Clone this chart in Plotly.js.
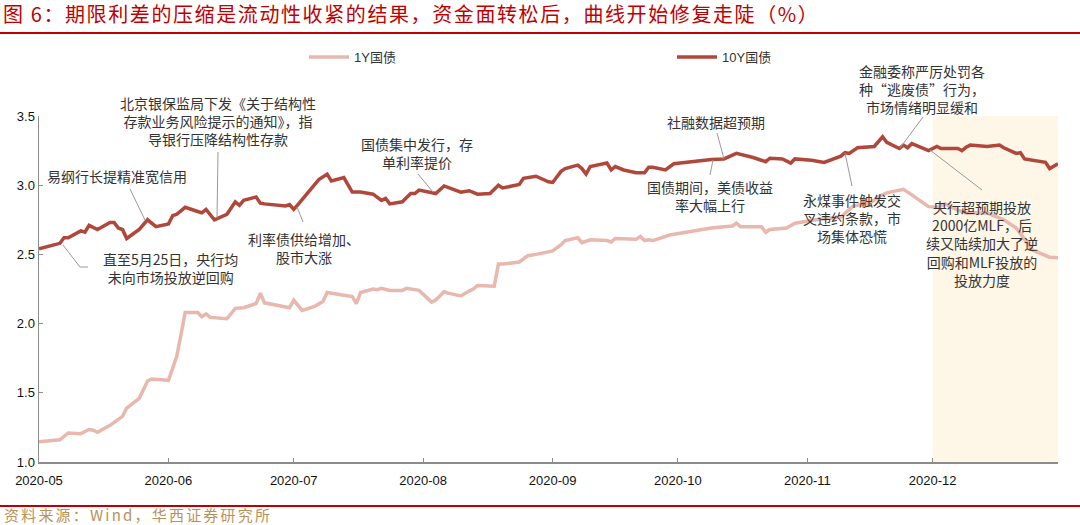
<!DOCTYPE html>
<html>
<head>
<meta charset="utf-8">
<script src="https://cdn.plot.ly/plotly-3.0.1.min.js"></script>
<style>
  html, body { margin: 0; padding: 0; background: #fff; }
  #chart { width: 1080px; height: 525px; }
</style>
</head>
<body>
<div id="chart"></div>
<script>
// ---------------- data ----------------
const dates10Y = [
  "2020-05-01","2020-05-06","2020-05-07","2020-05-08","2020-05-11","2020-05-12","2020-05-13","2020-05-15",
  "2020-05-18","2020-05-19","2020-05-20","2020-05-21","2020-05-22","2020-05-25","2020-05-27","2020-05-29",
  "2020-06-01","2020-06-02","2020-06-03","2020-06-05","2020-06-08","2020-06-09","2020-06-10","2020-06-12",
  "2020-06-15","2020-06-17","2020-06-18","2020-06-19","2020-06-22","2020-06-23","2020-06-24","2020-06-29",
  "2020-06-30","2020-07-01","2020-07-02","2020-07-06","2020-07-07","2020-07-09","2020-07-10","2020-07-13",
  "2020-07-15","2020-07-17","2020-07-20","2020-07-22","2020-07-23","2020-07-24","2020-07-27","2020-07-29",
  "2020-07-30","2020-07-31","2020-08-04","2020-08-06","2020-08-10","2020-08-12","2020-08-14","2020-08-17",
  "2020-08-19","2020-08-20","2020-08-24","2020-08-25","2020-08-28","2020-08-31","2020-09-01","2020-09-03",
  "2020-09-04","2020-09-07","2020-09-08","2020-09-09","2020-09-10","2020-09-14","2020-09-15","2020-09-16",
  "2020-09-18","2020-09-21","2020-09-23","2020-09-24","2020-09-25","2020-09-28","2020-09-30","2020-10-09",
  "2020-10-12","2020-10-15","2020-10-19","2020-10-22","2020-10-23","2020-10-26","2020-10-28","2020-10-29",
  "2020-11-02","2020-11-05","2020-11-09","2020-11-10","2020-11-11","2020-11-13","2020-11-17","2020-11-19",
  "2020-11-20","2020-11-23","2020-11-24","2020-11-25","2020-11-26","2020-11-30","2020-12-02","2020-12-03",
  "2020-12-07","2020-12-08","2020-12-09","2020-12-10","2020-12-14","2020-12-17","2020-12-18","2020-12-21",
  "2020-12-22","2020-12-23","2020-12-28","2020-12-29","2020-12-31"
];
const values10Y = [
  2.54,2.58,2.62,2.62,2.67,2.66,2.71,2.68,
  2.73,2.73,2.69,2.68,2.615,2.68,2.75,2.70,
  2.72,2.78,2.79,2.84,2.81,2.80,2.825,2.75,
  2.79,2.88,2.855,2.89,2.915,2.87,2.865,2.85,
  2.86,2.825,2.86,3.01,3.04,3.08,3.03,3.055,
  2.95,2.95,2.935,2.89,2.905,2.865,2.88,2.94,
  2.94,2.965,2.94,2.995,2.95,2.96,2.935,2.94,
  3.00,2.98,3.005,3.05,3.065,3.025,3.02,3.10,
  3.12,3.145,3.12,3.08,3.135,3.16,3.11,3.135,
  3.11,3.09,3.09,3.13,3.13,3.11,3.155,3.185,
  3.19,3.23,3.20,3.17,3.195,3.19,3.16,3.19,
  3.18,3.165,3.21,3.235,3.23,3.27,3.28,3.35,
  3.31,3.265,3.29,3.27,3.30,3.25,3.28,3.265,
  3.265,3.25,3.275,3.29,3.28,3.29,3.27,3.23,
  3.235,3.19,3.165,3.12,3.155
];

const dates1Y = [
  "2020-05-01","2020-05-06","2020-05-08","2020-05-11","2020-05-12","2020-05-13","2020-05-14","2020-05-15",
  "2020-05-18","2020-05-20","2020-05-21","2020-05-22","2020-05-25","2020-05-27","2020-05-28","2020-06-01",
  "2020-06-03","2020-06-04","2020-06-05","2020-06-08","2020-06-09","2020-06-10","2020-06-11","2020-06-15",
  "2020-06-17","2020-06-19","2020-06-22","2020-06-23","2020-06-24","2020-06-30","2020-07-01","2020-07-03",
  "2020-07-06","2020-07-08","2020-07-09","2020-07-13","2020-07-15","2020-07-16","2020-07-17","2020-07-20",
  "2020-07-21","2020-07-22","2020-07-24","2020-07-27","2020-07-28","2020-07-31","2020-08-03","2020-08-04",
  "2020-08-06","2020-08-07","2020-08-10","2020-08-12","2020-08-13","2020-08-14","2020-08-18","2020-08-19",
  "2020-08-20","2020-08-24","2020-08-26","2020-08-28","2020-09-01","2020-09-03","2020-09-04","2020-09-07",
  "2020-09-08","2020-09-10","2020-09-14","2020-09-15","2020-09-16","2020-09-21","2020-09-22","2020-09-23",
  "2020-09-24","2020-09-25","2020-09-29","2020-10-09","2020-10-14","2020-10-15","2020-10-16","2020-10-21",
  "2020-10-22","2020-10-23","2020-10-27","2020-10-29","2020-11-03","2020-11-09","2020-11-12","2020-11-16",
  "2020-11-18","2020-11-20","2020-11-24","2020-11-26","2020-11-30","2020-12-02","2020-12-04","2020-12-07",
  "2020-12-09","2020-12-14","2020-12-18","2020-12-21","2020-12-23","2020-12-25","2020-12-29","2020-12-31"
];
const values1Y = [
  1.147,1.16,1.21,1.205,1.22,1.235,1.23,1.215,
  1.265,1.31,1.33,1.39,1.46,1.585,1.60,1.59,
  1.765,1.92,2.08,2.08,2.05,2.07,2.045,2.035,
  2.11,2.115,2.145,2.22,2.15,2.115,2.17,2.095,
  2.125,2.16,2.225,2.205,2.195,2.145,2.225,2.25,
  2.245,2.255,2.24,2.24,2.255,2.24,2.155,2.17,
  2.23,2.22,2.20,2.235,2.25,2.275,2.27,2.43,
  2.43,2.445,2.49,2.50,2.525,2.57,2.60,2.62,
  2.585,2.605,2.60,2.59,2.615,2.61,2.63,2.60,
  2.605,2.60,2.64,2.69,2.705,2.725,2.70,2.70,
  2.66,2.68,2.69,2.725,2.75,2.77,2.85,2.87,
  2.915,2.945,2.97,2.93,2.845,2.84,2.865,2.82,
  2.80,2.80,2.75,2.69,2.605,2.53,2.48,2.475
];

const seriesNames = ["1Y国债", "10Y国债"];
const yTickVals = [1.0, 1.5, 2.0, 2.5, 3.0, 3.5];
const shadeStart = "2020-12-01";
const shadeEnd = "2020-12-31";

const titleText = "图 6：期限利差的压缩是流动性收紧的结果，资金面转松后，曲线开始修复走陡（%）";
const sourceText = "资料来源：Wind，华西证券研究所";

// ---------------- layout helpers ----------------
const W = 1080, H = 525;
const L = 39, R = 1058, T = 116, B = 462;
const px = x => (x - L) / (R - L);
const py = y => (B - y) / (B - T);

const cjk = "'Noto Sans CJK SC', 'Noto Sans', sans-serif";
const latin = "'Liberation Sans', Arial, 'Noto Sans CJK SC', sans-serif";

// annotation texts: [text, centerX px, centerY px]
const notes = [
  ["易纲行长提精准宽信用", 117, 176],
  ["北京银保监局下发《关于结构性<br>存款业务风险提示的通知》，指<br>导银行压降结构性存款", 218, 121],
  ["直至5月25日，央行均<br>未向市场投放逆回购", 170, 268],
  ["利率债供给增加、<br>股市大涨", 304, 247.5],
  ["国债集中发行，存<br>单利率提价", 417, 152.5],
  ["社融数据超预期", 716, 122],
  ["国债期间，美债收益<br>率大幅上行", 710, 195.5],
  ["金融委称严厉处罚各<br>种“逃废债”行为，<br>市场情绪明显缓和", 922, 88.5],
  ["永煤事件触发交<br>叉违约条款，市<br>场集体恐慌", 852, 217.5],
  ["央行超预期投放<br>2000亿MLF，后<br>续又陆续加大了逆<br>回购和MLF投放的<br>投放力度", 982, 243]
];
// leader lines in pixel coords
const leaders = [
  [[130,189],[145,220]],
  [[218,152],[217,218]],
  [[63,245],[80,267],[88,267]],
  [[297,207],[303,222]],
  [[418,174],[433,192]],
  [[717,133],[724,159]],
  [[713,160],[710,175]],
  [[923,117],[900,148]],
  [[845,153],[852,186]],
  [[930,150],[982,190]]
];

const traces = [
  {
    x: dates1Y, y: values1Y, name: seriesNames[0], type: "scatter", mode: "lines",
    line: { color: "#E8B7AE", width: 3.5 }, legend: "legend"
  },
  {
    x: dates10Y, y: values10Y, name: seriesNames[1], type: "scatter", mode: "lines",
    line: { color: "#B0473A", width: 3.5 }, legend: "legend2"
  }
];

const shapes = [
  { type: "rect", xref: "x", yref: "paper", x0: shadeStart, x1: shadeEnd, y0: 0, y1: 1,
    fillcolor: "#FEF7E7", line: { width: 0 }, layer: "below" },
  { type: "line", xref: "paper", yref: "paper", x0: px(0), x1: px(W), y0: py(33), y1: py(33),
    line: { color: "#C00000", width: 2 } },
  { type: "line", xref: "paper", yref: "paper", x0: px(0), x1: px(W), y0: py(506), y1: py(506),
    line: { color: "#C00000", width: 2 } }
];
leaders.forEach(pts => {
  for (let i = 0; i < pts.length - 1; i++) {
    shapes.push({ type: "line", xref: "paper", yref: "paper",
      x0: px(pts[i][0]), y0: py(pts[i][1]), x1: px(pts[i+1][0]), y1: py(pts[i+1][1]),
      line: { color: "#9A9A9A", width: 1 } });
  }
});

const annotations = notes.map(n => ({
  text: n[0], xref: "paper", yref: "paper", x: px(n[1]), y: py(n[2]),
  xanchor: "center", yanchor: "middle", showarrow: false, align: "center",
  font: { family: cjk, size: 14, color: "#333333" }
}));
annotations.push({
  text: sourceText, xref: "paper", yref: "paper", x: px(2), y: py(514),
  xanchor: "left", yanchor: "middle", showarrow: false,
  font: { family: cjk, size: 15, color: "#B8925A" }
});

const legendBase = {
  orientation: "h", xanchor: "left", y: py(57), yanchor: "middle",
  font: { family: latin, size: 13, color: "#333" },
  itemwidth: 40, bgcolor: "rgba(0,0,0,0)", borderwidth: 0
};

const layout = {
  width: W, height: H,
  margin: { l: L, r: W - R, t: T, b: H - B, pad: 0 },
  paper_bgcolor: "#ffffff", plot_bgcolor: "rgba(0,0,0,0)",
  title: {
    text: titleText, xref: "container", yref: "container",
    x: 3 / W, xanchor: "left", y: 1 - 15 / H, yanchor: "middle",
    font: { family: cjk, size: 20, color: "#C00000" }
  },
  showlegend: true,
  legend: Object.assign({}, legendBase, { x: px(304) }),
  legend2: Object.assign({}, legendBase, { x: px(672) }),
  xaxis: {
    type: "date", range: ["2020-05-01", "2020-12-31"],
    tick0: "2020-05-01", dtick: "M1", tickformat: "%Y-%m",
    showgrid: false, zeroline: false,
    showline: true, linecolor: "#8c8c8c", linewidth: 1.5,
    ticks: "inside", ticklen: 4, tickcolor: "#8c8c8c", tickwidth: 1,
    tickfont: { family: latin, size: 13, color: "#111" },
    ticklabelstandoff: 6
  },
  yaxis: {
    range: [1.0, 3.5], tickvals: yTickVals, tickformat: ".1f",
    showgrid: false, zeroline: false,
    showline: true, linecolor: "#8c8c8c", linewidth: 1.5,
    ticks: "inside", ticklen: 4, tickcolor: "#8c8c8c", tickwidth: 1,
    tickfont: { family: latin, size: 13, color: "#111" }
  },
  shapes: shapes,
  annotations: annotations
};

Plotly.newPlot("chart", traces, layout, { displayModeBar: false, staticPlot: true }).then(gd => {
  // widen character spacing of the title and the source line to match the reference
  const t = gd.querySelector(".gtitle");
  if (t) t.style.letterSpacing = "1.6px";
  const anns = gd.querySelectorAll(".annotation-text");
  if (anns.length) {
    const src = anns[anns.length - 1];
    const before = src.getBoundingClientRect().left;
    src.style.letterSpacing = "2.2px";
    const after = src.getBoundingClientRect().left;
    const dx = before - after;
    const prev = src.getAttribute("transform") || "";
    src.setAttribute("transform", prev + " translate(" + dx + ",0)");
  }
});
</script>
</body>
</html>
